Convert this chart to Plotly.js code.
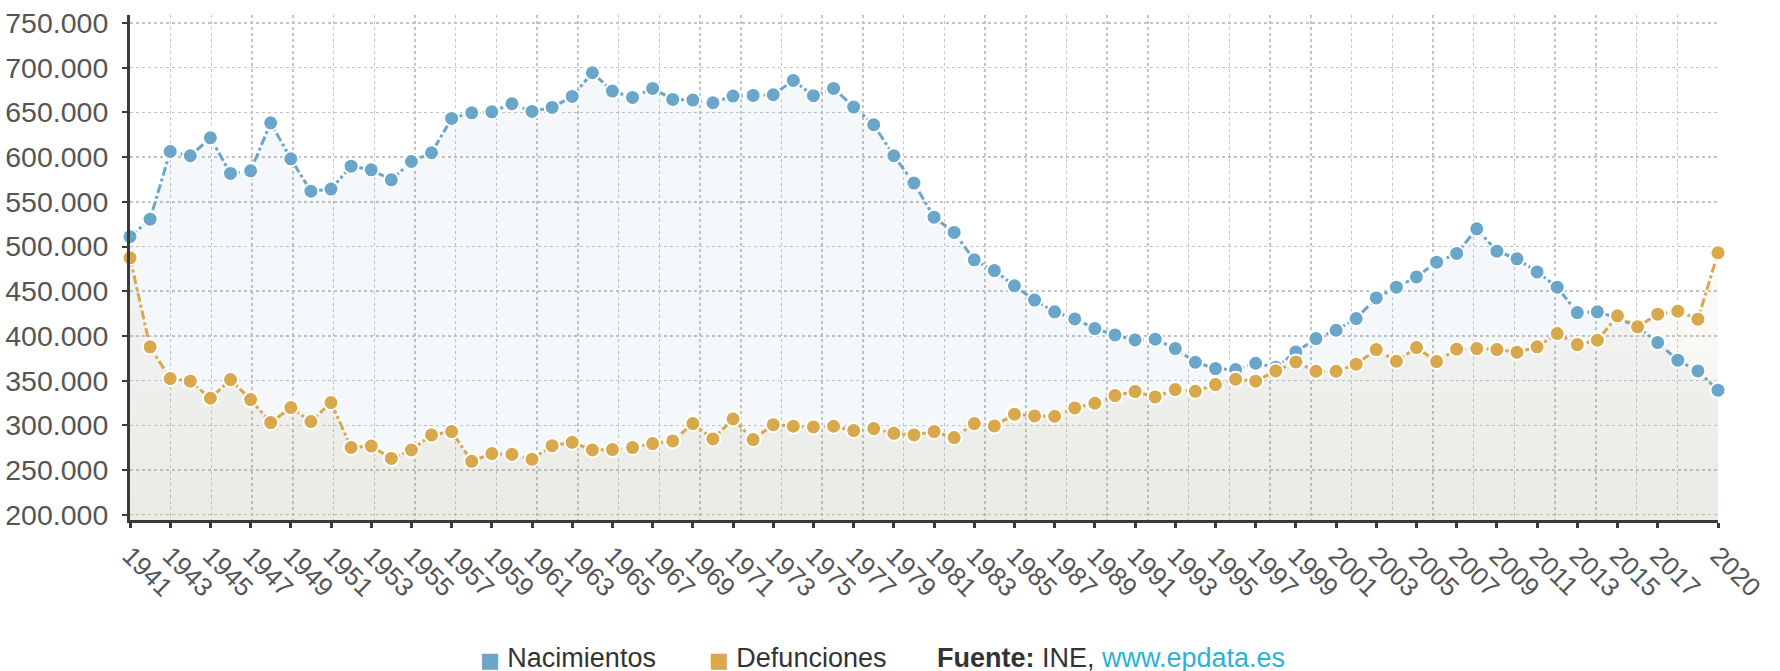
<!DOCTYPE html>
<html>
<head>
<meta charset="utf-8">
<script src="https://cdn.plot.ly/plotly-3.0.1.min.js"></script>
<style>html,body{margin:0;padding:0;background:#fff;}#chart{width:1780px;height:671px;}</style>
</head>
<body>
<div id="chart"></div>
<script>
var years = [1941,1942,1943,1944,1945,1946,1947,1948,1949,1950,
             1951,1952,1953,1954,1955,1956,1957,1958,1959,1960,
             1961,1962,1963,1964,1965,1966,1967,1968,1969,1970,
             1971,1972,1973,1974,1975,1976,1977,1978,1979,1980,
             1981,1982,1983,1984,1985,1986,1987,1988,1989,1990,
             1991,1992,1993,1994,1995,1996,1997,1998,1999,2000,
             2001,2002,2003,2004,2005,2006,2007,2008,2009,2010,
             2011,2012,2013,2014,2015,2016,2017,2018,2019,2020];

var nacimientos = [511000,530600,606300,601500,621600,581700,584700,638400,598100,561900,
                   564200,589900,585800,574600,595100,604900,643300,649600,650700,659700,
                   651100,655600,667900,694400,673900,666800,676900,664600,663800,660800,
                   668300,669000,669800,685800,668700,676900,656000,636200,601500,570900,
                   532800,515700,485100,473100,456000,440000,426900,419000,408200,401100,
                   395500,396300,385800,370500,363400,362300,369400,365000,382000,397000,
                   406300,419400,442500,454500,466000,482500,492200,519800,494800,486200,
                   471600,454500,426100,426900,420000,410300,392500,372800,360800,339200];

var defunciones = [487300,387700,352200,349300,330200,351100,328700,303000,319800,304100,
                   325400,275200,276700,262900,272300,289200,292900,259700,268300,267500,
                   261900,277200,280900,272300,272800,275000,279500,282500,301900,284700,
                   307100,284000,300700,298900,298100,298900,294000,296300,291000,289200,
                   292900,286200,301900,299300,312300,310400,310100,319400,324600,333200,
                   337700,331700,339900,338000,345500,351500,349300,360800,370900,360400,
                   360400,368300,384700,371600,386900,371300,385100,385800,384700,381700,
                   387700,402600,390300,395100,422400,410100,424300,427600,418700,492900];

var xTickVals = [1941,1943,1945,1947,1949,1951,1953,1955,1957,1959,1961,1963,1965,1967,
                 1969,1971,1973,1975,1977,1979,1981,1983,1985,1987,1989,1991,1993,1995,
                 1997,1999,2001,2003,2005,2007,2009,2011,2013,2015,2017,2020];
var xTickText = ["1941","1943","1945","1947","1949","1951","1953","1955","1957","1959",
                 "1961","1963","1965","1967","1969","1971","1973","1975","1977","1979",
                 "1981","1983","1985","1987","1989","1991","1993","1995","1997","1999",
                 "2001","2003","2005","2007","2009","2011","2013","2015","2017","2020"];

var seriesNames = ["Nacimientos", "Defunciones"];
var sourceLabel = "Fuente:";
var sourceText = "INE, ";
var sourceLink = "www.epdata.es";

var blue = "#6aa6c9";
var gold = "#d9a84c";
var font = "Liberation Sans, Arial, sans-serif";

var xFirst = years[0], xLast = years[years.length - 1];

// evenly spaced vertical grid (as in the original chart)
var nGrid = 40;
var gridVals = [];
for (var k = 0; k < nGrid; k++) {
  gridVals.push(xFirst + k * (xLast - xFirst) / (nGrid - 1));
}

var traces = [
  {x: years, y: nacimientos, type: "scatter", mode: "lines", line: {width: 0, color: blue},
   fill: "tozeroy", fillcolor: "rgba(106,166,201,0.075)", hoverinfo: "skip", showlegend: false},
  {x: years, y: defunciones, type: "scatter", mode: "lines", line: {width: 0, color: gold},
   fill: "tozeroy", fillcolor: "rgba(177,148,76,0.09)",
   fillgradient: {type: "vertical", start: 194000, stop: 493000,
                  colorscale: [[0, "rgba(177,148,76,0.13)"], [1, "rgba(177,148,76,0.035)"]]},
   hoverinfo: "skip", showlegend: false},
  // carrier for the evenly spaced vertical grid axis
  {x: [xFirst, xLast], y: [null, null], xaxis: "x2", yaxis: "y", type: "scatter", mode: "markers",
   hoverinfo: "skip", showlegend: false},
  {x: years, y: nacimientos, name: seriesNames[0], type: "scatter", mode: "lines+markers",
   cliponaxis: false,
   line: {color: blue, width: 3, dash: "dashdot"},
   marker: {color: blue, size: 15, line: {color: "#ffffff", width: 2}}},
  {x: years, y: defunciones, name: seriesNames[1], type: "scatter", mode: "lines+markers",
   cliponaxis: false,
   line: {color: gold, width: 3, dash: "dashdot"},
   marker: {color: gold, size: 15, line: {color: "#ffffff", width: 2}}}
];

var legY = -0.274;
var legFont = {size: 27, color: "#333333", family: font};
function square(color) {
  return '<span style="color:' + color + ';font-size:21px;font-family:DejaVu Sans">■</span> ';
}

var layout = {
  width: 1780, height: 671,
  margin: {l: 130, r: 62, t: 15, b: 151},
  paper_bgcolor: "#ffffff", plot_bgcolor: "#ffffff",
  separators: ",.",
  showlegend: false,
  font: {family: font, color: "#555555"},
  xaxis: {
    range: [xFirst, xLast],
    tickmode: "array", tickvals: xTickVals, ticktext: xTickText,
    tickangle: 45, tickfont: {size: 26, color: "#555555", family: font},
    showgrid: false, zeroline: false,
    showline: true, linecolor: "#3a3a3a", linewidth: 3,
    ticks: "outside", ticklen: 5, tickwidth: 3, tickcolor: "#3a3a3a",
    ticklabelstandoff: 2
  },
  xaxis2: {
    overlaying: "x", anchor: "y", range: [xFirst, xLast],
    tickmode: "array", tickvals: gridVals, showticklabels: false, ticks: "",
    showgrid: true, gridcolor: "#c4c4c4", gridwidth: 1.5, griddash: "dot",
    zeroline: false, showline: false
  },
  yaxis: {
    range: [194000, 759000],
    tick0: 0, dtick: 50000, tickformat: ",d",
    tickfont: {size: 28.5, color: "#555555", family: font},
    showgrid: true, gridcolor: "#c4c4c4", gridwidth: 1.5, griddash: "dot",
    zeroline: false,
    showline: true, linecolor: "#3a3a3a", linewidth: 3,
    ticks: "outside", ticklen: 5, tickwidth: 2, tickcolor: "#3a3a3a",
    ticklabelstandoff: 8
  },
  annotations: [
    {xref: "paper", yref: "paper", x: 0.2190, y: legY, xanchor: "left", yanchor: "middle",
     showarrow: false, font: legFont, text: square(blue) + seriesNames[0]},
    {xref: "paper", yref: "paper", x: 0.3632, y: legY, xanchor: "left", yanchor: "middle",
     showarrow: false, font: legFont, text: square(gold) + seriesNames[1]},
    {xref: "paper", yref: "paper", x: 0.5072, y: legY, xanchor: "left", yanchor: "middle",
     showarrow: false, font: legFont,
     text: '<b>' + sourceLabel + '</b> ' + sourceText + '<span style="color:#2bb3d6">' + sourceLink + '</span>'}
  ]
};

Plotly.newPlot("chart", traces, layout, {displayModeBar: false, staticPlot: true});
</script>
</body>
</html>
